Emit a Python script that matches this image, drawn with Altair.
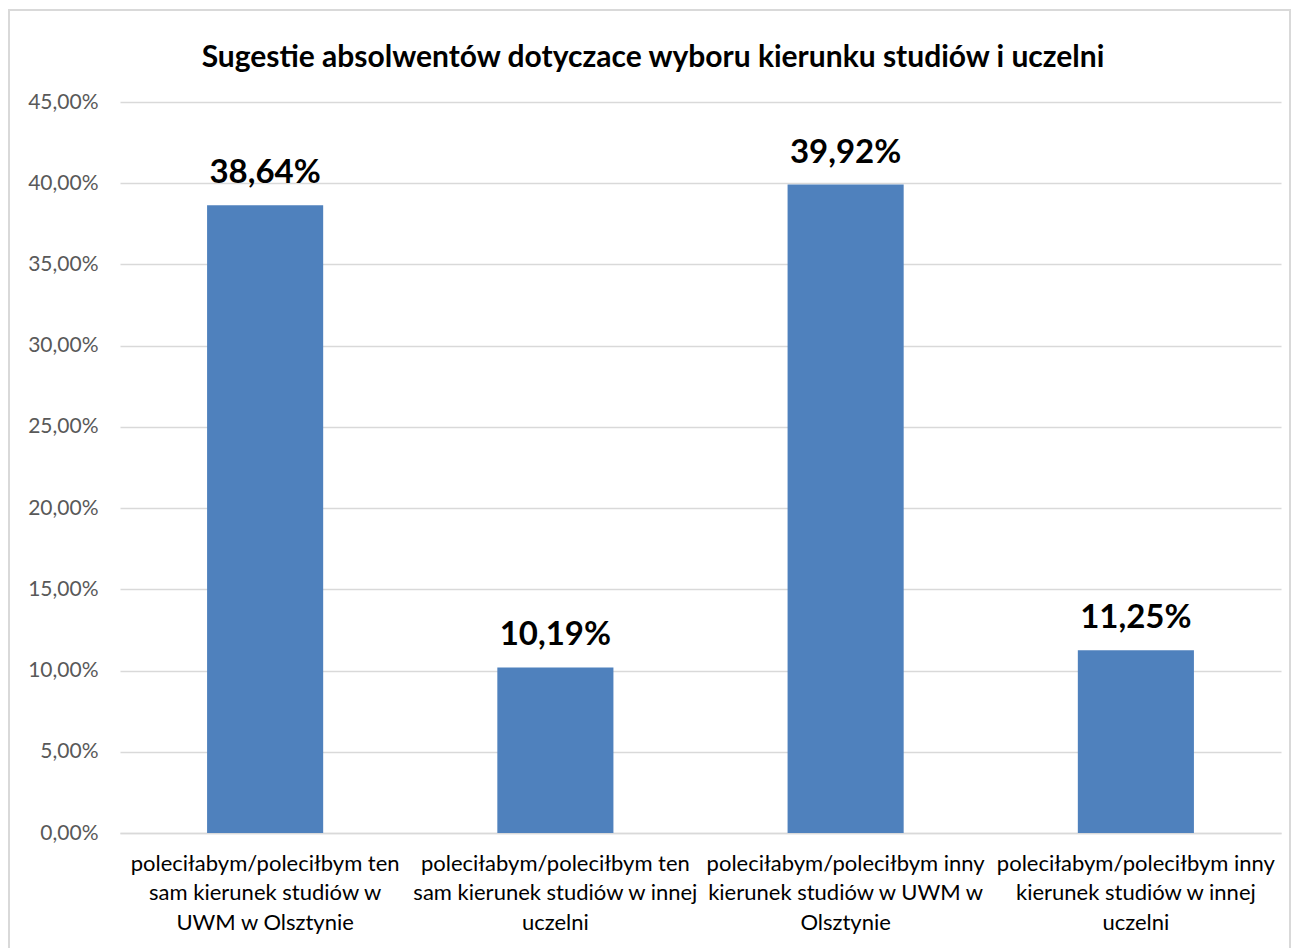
import altair as alt
import pandas as pd

categories = [
    "poleciłabym/poleciłbym ten|sam kierunek studiów w|UWM w Olsztynie",
    "poleciłabym/poleciłbym ten|sam kierunek studiów w innej|uczelni",
    "poleciłabym/poleciłbym inny|kierunek studiów w UWM w|Olsztynie",
    "poleciłabym/poleciłbym inny|kierunek studiów w innej|uczelni",
]
values = [38.64, 10.19, 39.92, 11.25]
title_text = ["Sugestie absolwentów dotyczace wyboru kierunku studiów i uczelni"]

df = pd.DataFrame({"cat": categories, "val": values})
tdf = pd.DataFrame({"t": title_text})

FONT = "Lato"
W, H = 1161, 731

base = alt.Chart(df).encode(
    x=alt.X(
        "cat:N",
        sort=categories,
        scale=alt.Scale(paddingInner=0.6, paddingOuter=0.3),
        axis=alt.Axis(
            title=None,
            labelAngle=0,
            labelExpr="split(datum.label, '|')",
            labelFont=FONT,
            labelFontSize=22,
            labelColor="#000000",
            labelLineHeight=29.5,
            labelPadding=20,
            labelBaseline="top",
            ticks=False,
            domainColor="#D9D9D9",
            domainWidth=1.5,
            labelLimit=400,
        ),
    ),
    y=alt.Y(
        "val:Q",
        scale=alt.Scale(domain=[0, 45], nice=False),
        axis=alt.Axis(
            title=None,
            values=[0, 5, 10, 15, 20, 25, 30, 35, 40, 45],
            labelExpr="replace(format(datum.value, '.2f'), '.', ',') + '%'",
            labelFont=FONT,
            labelFontSize=21,
            labelColor="#595959",
            labelPadding=22,
            ticks=False,
            domain=False,
            gridColor="#D9D9D9",
            gridWidth=1.5,
        ),
    ),
)

bars = base.mark_bar(color="#4F81BD")

labels = base.transform_calculate(
    lab="replace(format(datum.val, '.2f'), '.', ',') + '%'"
).mark_text(
    font=FONT, fontSize=33, fontWeight="bold", color="#000000",
    baseline="alphabetic", dy=-22,
).encode(text="lab:N")

border = alt.Chart(df).mark_rect(
    fill=None, stroke="#D9D9D9", strokeWidth=1.5
).encode(
    x=alt.value(-111), x2=alt.value(1170), y=alt.value(-92), y2=alt.value(860)
)

title = alt.Chart(tdf).mark_text(
    font=FONT, fontSize=30, fontWeight="bold", color="#000000",
    align="center", baseline="alphabetic",
).encode(text="t:N", x=alt.value(533), y=alt.value(-35))

chart = alt.layer(border, bars, labels, title).properties(
    width=W,
    height=H,
    autosize=alt.AutoSizeParams(type="none"),
    padding={"left": 112, "top": 94, "right": 10, "bottom": 120},
).configure(background="white").configure_view(stroke=None)

chart.save("out.html", embed_options={"renderer": "svg", "actions": False})
